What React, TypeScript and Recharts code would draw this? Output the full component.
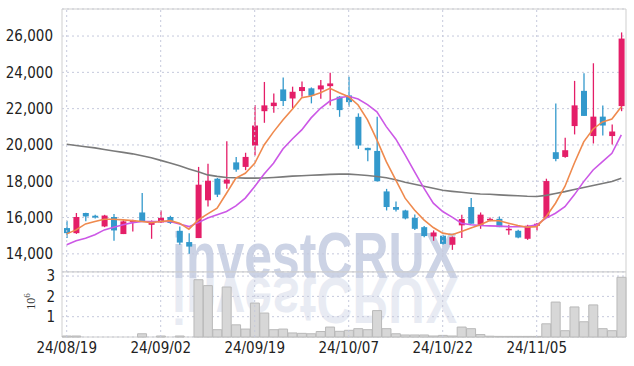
import React from 'react';
import { ComposedChart, Bar, Line, XAxis, YAxis, CartesianGrid, ReferenceLine, ReferenceArea } from 'recharts';

const dates = [
  '24/08/19', '24/08/20', '24/08/21', '24/08/22', '24/08/23', '24/08/26', '24/08/27', '24/08/28', '24/08/29', '24/08/30',
  '24/09/02', '24/09/03', '24/09/04', '24/09/05', '24/09/06', '24/09/09', '24/09/10', '24/09/11', '24/09/12', '24/09/13',
  '24/09/19', '24/09/20', '24/09/23', '24/09/24', '24/09/25', '24/09/26', '24/09/27', '24/09/30', '24/10/02', '24/10/04',
  '24/10/07', '24/10/08', '24/10/10', '24/10/11', '24/10/14', '24/10/15', '24/10/16', '24/10/17', '24/10/18', '24/10/21',
  '24/10/22', '24/10/23', '24/10/24', '24/10/25', '24/10/28', '24/10/29', '24/10/30', '24/10/31', '24/11/01', '24/11/04',
  '24/11/05', '24/11/06', '24/11/07', '24/11/08', '24/11/11', '24/11/12', '24/11/13', '24/11/14', '24/11/15', '24/11/18',
];

const opens = [
  15420, 15140, 16250, 16100, 15510, 16030, 15090, 15800, 16280, 15600,
  15730, 16030, 15270, 14650, 14870, 16950, 18140, 17870, 19040, 18790,
  19970, 21860, 22140, 23060, 22560, 22970, 23120, 23060, 23240, 22660,
  22730, 21550, 19840, 19670, 17440, 16580, 16390, 15980, 15470, 14960,
  15000, 14500, 15570, 16580, 15600, 15840, 15930, 15330, 15270, 14830,
  15550, 15980, 19600, 19340, 21040, 22980, 20490, 21560, 20490, 22140,
];
const highs = [
  15820, 16250, 16270, 16150, 16150, 16190, 15850, 15880, 17350, 15840,
  16390, 16100, 15510, 15140, 18790, 18960, 18180, 20200, 19340, 19570,
  22200, 23470, 22830, 23710, 23210, 23490, 23170, 23580, 23980, 22690,
  23760, 21740, 19840, 21550, 17580, 16890, 16430, 16170, 15530, 15290,
  15050, 14960, 16160, 17080, 16280, 16000, 16060, 15600, 15330, 15600,
  15700, 18140, 22290, 20390, 23530, 23950, 24500, 22180, 21130, 26200,
];
const lows = [
  14880, 15100, 15800, 15950, 15470, 14720, 15090, 15230, 15750, 14830,
  15700, 15650, 14500, 14000, 14870, 16610, 17130, 17580, 18530, 18610,
  19420, 21220, 21770, 22140, 22000, 22660, 22290, 22550, 22180, 21550,
  22100, 19780, 19100, 17990, 16390, 16340, 15900, 15310, 14920, 14720,
  14500, 14220, 14870, 15660, 15380, 15790, 15470, 15050, 14860, 14770,
  15290, 15980, 19100, 19290, 20580, 21600, 20080, 20520, 20020, 21860,
];
const closes = [
  15140, 16030, 16060, 16000, 16110, 15290, 15790, 15840, 15790, 15750,
  15980, 15700, 14620, 14400, 17810, 18030, 17260, 18090, 18640, 19340,
  21070, 22180, 22330, 22420, 22930, 23190, 22710, 23280, 23390, 21920,
  22360, 19970, 19710, 18000, 16580, 16430, 15950, 15380, 14980, 15180,
  14550, 14920, 15920, 15660, 16160, 15930, 15470, 15380, 14900, 15550,
  15660, 18010, 19230, 19710, 22180, 21600, 21560, 21070, 20740, 25860,
];
const ma5 = [
  15100, 15320, 15650, 15780, 15910, 15910, 15870, 15830, 15780, 15720,
  15780, 15830, 15690, 15360, 15870, 16200, 16520, 17340, 18170, 18440,
  18990, 20000, 20720, 21380, 21970, 22600, 22700, 22880, 23120, 22880,
  22660, 22200, 21380, 20280, 19080, 18070, 17070, 16420, 15870, 15450,
  15140, 15050, 15230, 15420, 15600, 15830, 15820, 15690, 15560, 15470,
  15500, 16050, 16790, 17710, 18990, 20170, 20880, 21270, 21430, 22110,
];
const ma10 = [
  14500, 14720, 14860, 15050, 15320, 15470, 15600, 15720, 15780, 15780,
  15780, 15780, 15650, 15500, 15720, 15970, 16150, 16330, 16640, 17070,
  17710, 18400, 18990, 19780, 20330, 20830, 21490, 22020, 22420, 22600,
  22680, 22530, 22220, 21820, 21010, 20330, 19450, 18530, 17620, 16790,
  16330, 16020, 15690, 15600, 15560, 15540, 15530, 15500, 15490, 15500,
  15600, 15970, 16240, 16600, 17250, 17980, 18620, 19080, 19540, 20550,
];
const maLong = [
  20040, 19970, 19900, 19840, 19750, 19670, 19590, 19510, 19400, 19290,
  19150, 19010, 18850, 18680, 18520, 18350, 18270, 18210, 18190, 18170,
  18170, 18180, 18210, 18240, 18280, 18300, 18330, 18350, 18380, 18390,
  18390, 18360, 18320, 18260, 18190, 18080, 17940, 17830, 17720, 17610,
  17500, 17440, 17390, 17340, 17300, 17280, 17250, 17220, 17200, 17170,
  17160, 17220, 17330, 17430, 17550, 17660, 17770, 17880, 17990, 18170,
];
const volumes = [
  50000, 50000, 0, 0, 0, 0, 0, 0, 160000, 0,
  50000, 0, 50000, 0, 2820000, 2530000, 360000, 2460000, 600000, 390000,
  1670000, 1180000, 360000, 390000, 200000, 180000, 160000, 270000, 490000, 280000,
  330000, 410000, 360000, 1300000, 410000, 160000, 100000, 100000, 100000, 50000,
  80000, 50000, 490000, 410000, 120000, 40000, 30000, 30000, 30000, 30000,
  30000, 650000, 1720000, 310000, 1480000, 750000, 1580000, 410000, 310000, 2940000,
];

const tickDates = ['24/08/19', '24/09/02', '24/09/19', '24/10/07', '24/10/22', '24/11/05'];
const priceTicks = [14000, 16000, 18000, 20000, 22000, 24000, 26000];
const volumeTicks = [1000000, 2000000, 3000000];

const PRICE_DOMAIN: [number, number] = [13000, 27490];
const VOL_DOMAIN: [number, number] = [0, 3200000];

const UP = '#e41e68';
const DOWN = '#3399cc';
const GRID = '#c5c9dc';
const FRAME = '#cfcfcf';
const FONT = "'Liberation Sans Narrow', 'DejaVu Sans Condensed', sans-serif";

const data = dates.map((d, i) => ({
  date: d,
  open: opens[i],
  high: highs[i],
  low: lows[i],
  close: closes[i],
  range: [lows[i], highs[i]],
  ma5: ma5[i],
  ma10: ma10[i],
  maLong: maLong[i],
  volume: volumes[i],
}));

const Candle = (props: any) => {
  const { x, y, width, height, payload } = props;
  if (!payload || x == null || y == null) return null;
  const { open, close, high, low } = payload;
  const top = Math.min(y, y + height);
  const bottom = Math.max(y, y + height);
  const span = high - low || 1;
  const py = (v: number) => top + ((high - v) / span) * (bottom - top);
  const up = close >= open;
  const color = up ? UP : DOWN;
  const cx = x + width / 2;
  const bTop = py(Math.max(open, close));
  const bBot = py(Math.min(open, close));
  return (
    <g>
      <line x1={cx} x2={cx} y1={top} y2={bottom} stroke={color} strokeWidth={1.3} />
      <rect x={x} y={bTop} width={width} height={Math.max(1.5, bBot - bTop)} fill={color} />
    </g>
  );
};

const VolUnit = (props: any) => {
  const vb = props && props.viewBox;
  const cx = 35;
  const cy = vb ? vb.y + vb.height / 2 - 3 : 40;
  return (
    <text
      transform={`rotate(-90, ${cx}, ${cy})`}
      x={cx}
      y={cy}
      textAnchor="middle"
      fontFamily="'Liberation Serif', 'DejaVu Serif', serif"
      fontSize={12}
      fill="#333"
    >
      10
      <tspan dy={-5} fontSize={9}>6</tspan>
    </text>
  );
};

const tickStyle = { fontFamily: FONT, fontSize: 15, fill: '#222' };

export default function App() {
  return (
    <div style={{ position: 'absolute', left: 0, top: 0, width: 634, height: 366, background: '#fff' }}>
      <svg width={634} height={366} style={{ position: 'absolute', left: 0, top: 0 }}>
        <text
          x={172}
          y={278}
          textLength={286}
          lengthAdjust="spacingAndGlyphs"
          fontFamily="'Liberation Sans', Arial, sans-serif"
          fontWeight="bold"
          fontSize={64}
          fill="#ccd3e5"
        >
          investCRUX
        </text>
        <text
          x={172}
          y={278}
          transform="translate(0,556) scale(1,-1)"
          textLength={286}
          lengthAdjust="spacingAndGlyphs"
          fontFamily="'Liberation Sans', Arial, sans-serif"
          fontWeight="bold"
          fontSize={64}
          fill="#e8ebf3"
        >
          investCRUX
        </text>
      </svg>
      <div style={{ position: 'absolute', left: 0, top: 0 }}>
        <ComposedChart width={634} height={272} data={data} margin={{ top: 9, right: 8, bottom: 0, left: 0 }}>
          <CartesianGrid vertical={false} stroke={GRID} strokeDasharray="2 3" />
          {tickDates.map((d) => (
            <ReferenceLine key={d} x={d} stroke={GRID} strokeDasharray="2 3" />
          ))}
          <ReferenceArea y1={PRICE_DOMAIN[0]} y2={PRICE_DOMAIN[1]} fill="none" stroke={FRAME} strokeWidth={1} ifOverflow="visible" />
          <XAxis dataKey="date" hide />
          <YAxis
            domain={PRICE_DOMAIN}
            ticks={priceTicks}
            interval={0}
            width={62}
            axisLine={false}
            tickLine={false}
            tickMargin={3}
            tick={tickStyle}
            tickFormatter={(v: number) => v.toLocaleString('en-US')}
            allowDataOverflow
          />
          <Line dataKey="maLong" stroke="#7a7a7a" strokeWidth={1.6} dot={false} isAnimationActive={false} />
          <Bar dataKey="range" barSize={6} shape={<Candle />} isAnimationActive={false} />
          <Line dataKey="ma10" stroke="#cc58e6" strokeWidth={1.6} dot={false} isAnimationActive={false} />
          <Line dataKey="ma5" stroke="#ef8a4e" strokeWidth={1.6} dot={false} isAnimationActive={false} />
        </ComposedChart>
      </div>
      <div style={{ position: 'absolute', left: 0, top: 262 }}>
        <ComposedChart width={634} height={104} data={data} margin={{ top: 10, right: 8, bottom: 0, left: 0 }} barCategoryGap="4%">
          <CartesianGrid vertical={false} stroke={GRID} strokeDasharray="2 3" />
          {tickDates.map((d) => (
            <ReferenceLine key={d} x={d} stroke={GRID} strokeDasharray="2 3" />
          ))}
          <ReferenceArea y1={VOL_DOMAIN[0]} y2={VOL_DOMAIN[1]} fill="none" stroke={FRAME} strokeWidth={1} ifOverflow="visible" />
          <XAxis
            dataKey="date"
            ticks={tickDates}
            interval={0}
            height={29}
            axisLine={false}
            tickLine={false}
            tickSize={0}
            tickMargin={5}
            tick={tickStyle}
          />
          <YAxis
            domain={VOL_DOMAIN}
            ticks={volumeTicks}
            interval={0}
            width={62}
            axisLine={false}
            tickLine={false}
            tickMargin={1}
            tick={tickStyle}
            tickFormatter={(v: number) => String(v / 1000000)}
            label={{ content: (p: any) => <VolUnit {...p} /> }}
          />
          <Bar dataKey="volume" fill="#d7d7d7" stroke="#b9b9b9" strokeWidth={1} isAnimationActive={false} />
        </ComposedChart>
      </div>
    </div>
  );
}
